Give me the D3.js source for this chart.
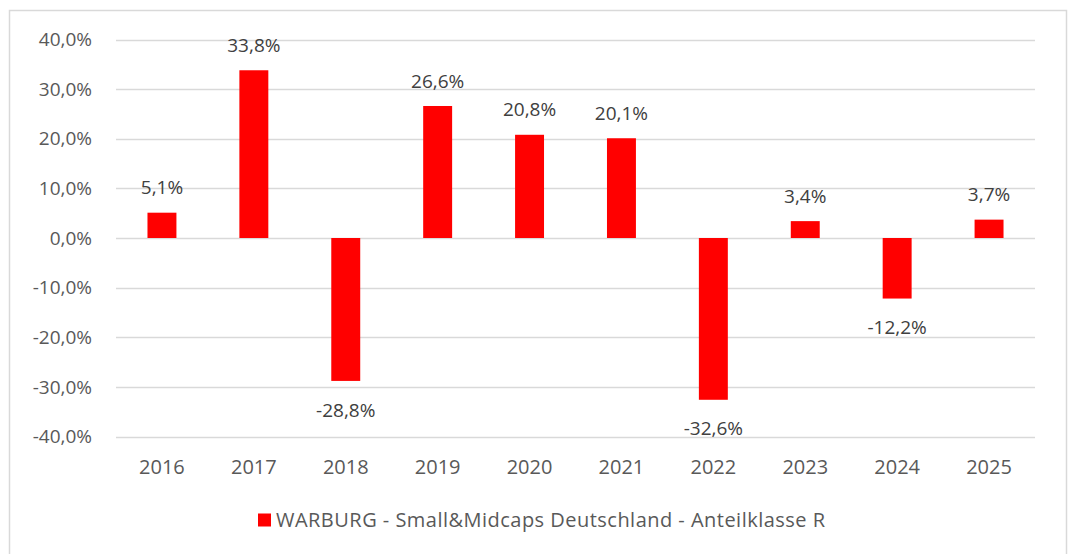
<!DOCTYPE html>
<html>
<head>
<meta charset="utf-8">
<script src="https://cdn.jsdelivr.net/npm/d3@7"></script>
<style>
  body { margin: 0; background: #fff; }
  svg { display: block; font-family: "Open Sans", sans-serif; }
</style>
</head>
<body>
<div class="chart"></div>
<script>
const years = ["2016", "2017", "2018", "2019", "2020", "2021", "2022", "2023", "2024", "2025"];
const returns = [5.1, 33.8, -28.8, 26.6, 20.8, 20.1, -32.6, 3.4, -12.2, 3.7];
const yTicks = [-40, -30, -20, -10, 0, 10, 20, 30, 40];
const seriesName = "WARBURG - Small&Midcaps Deutschland - Anteilklasse R";

const width = 1073, height = 554;
const margin = {top: 39.5, right: 35, bottom: 117.5, left: 116};
const fmt = v => d3.format(".1f")(v).replace(".", ",").replace("\u2212", "-") + "%";

const svg = d3.select(".chart")
  .append("svg")
    .attr("width", width)
    .attr("height", height);

// outer frame
svg.append("rect")
  .attr("x", 9.5).attr("y", 10.5)
  .attr("width", 1057).attr("height", 560)
  .attr("fill", "none")
  .attr("stroke", "#d9d9d9")
  .attr("stroke-width", 1.5);

const x = d3.scaleBand()
  .domain(years)
  .range([margin.left, width - margin.right - 3]);

const y = d3.scaleLinear()
  .domain([-40, 40])
  .range([height - margin.bottom, margin.top]);

const barW = x.bandwidth() * 0.315;

// gridlines
svg.append("g")
  .selectAll("line")
  .data(yTicks)
  .join("line")
    .attr("x1", margin.left)
    .attr("x2", width - margin.right - 3)
    .attr("y1", d => Math.round(y(d)) + 0.5)
    .attr("y2", d => Math.round(y(d)) + 0.5)
    .attr("stroke", "#d9d9d9")
    .attr("stroke-width", 1.3);

// y tick labels
svg.append("g")
  .attr("fill", "#595959")
  .attr("font-size", 19)
  .attr("text-anchor", "end")
  .selectAll("text")
  .data(yTicks)
  .join("text")
    .attr("x", 92)
    .attr("y", d => y(d))
    .attr("dy", "0.35em")
    .text(fmt);

// bars
svg.append("g")
  .attr("fill", "#ff0000")
  .selectAll("rect")
  .data(returns)
  .join("rect")
    .attr("x", (d, i) => x(years[i]) + x.bandwidth() / 2 - barW / 2)
    .attr("y", d => y(Math.max(0, d)))
    .attr("width", barW)
    .attr("height", d => Math.abs(y(d) - y(0)));

// value labels
svg.append("g")
  .attr("fill", "#404040")
  .attr("font-size", 19)
  .attr("text-anchor", "middle")
  .selectAll("text")
  .data(returns)
  .join("text")
    .attr("x", (d, i) => x(years[i]) + x.bandwidth() / 2)
    .attr("y", d => d >= 0 ? y(d) - 25 : y(d) + 29)
    .attr("dy", "0.35em")
    .text(fmt);

// x labels
svg.append("g")
  .attr("fill", "#595959")
  .attr("font-size", 20)
  .attr("text-anchor", "middle")
  .selectAll("text")
  .data(years)
  .join("text")
    .attr("x", d => x(d) + x.bandwidth() / 2)
    .attr("y", 467)
    .attr("dy", "0.35em")
    .text(d => d);

// legend
const legend = svg.append("g").attr("transform", "translate(258, 520)");
legend.append("rect")
  .attr("x", 0).attr("y", -6.5)
  .attr("width", 13).attr("height", 13)
  .attr("fill", "#ff0000");
legend.append("text")
  .attr("x", 18)
  .attr("dy", "0.35em")
  .attr("fill", "#595959")
  .attr("font-size", 20)
  .attr("textLength", 549)
  .attr("lengthAdjust", "spacing")
  .text(seriesName);
</script>
</body>
</html>
